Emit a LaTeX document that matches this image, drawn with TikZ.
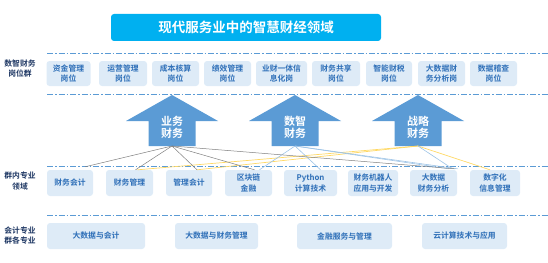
\documentclass[tikz,border=0pt]{standalone}
\usepackage{fontspec}
\setmainfont{Noto Sans CJK SC}[BoldFont={Noto Sans CJK SC Bold}]
\usetikzlibrary{calc}
\definecolor{titlec}{HTML}{00B0F0}
\definecolor{arrowc}{HTML}{5B9BD5}
\definecolor{boxfill}{HTML}{DEEBF7}
\definecolor{boxtext}{HTML}{2E6FB8}
\definecolor{labc}{HTML}{1F3864}
\definecolor{grayl}{HTML}{7F7F7F}
\definecolor{bluel}{HTML}{9DC3E6}
\definecolor{yell}{HTML}{FFD966}
\begin{document}
\begin{tikzpicture}[x=1pt,y=-1pt,
  bx/.style={rounded corners=3pt, fill=boxfill, text=boxtext, align=center, inner sep=0pt,
    font=\bfseries\fontsize{7.8}{10.5}\selectfont, minimum height=25pt},
  lab/.style={text=labc, align=center, font=\bfseries\fontsize{7.8}{10.5}\selectfont},
  sep/.style={draw=arrowc, line width=0.9pt, dash pattern=on 6pt off 2pt on 1.5pt off 2pt},
  upar/.style={fill=arrowc},
  artext/.style={text=white, align=center, font=\bfseries\fontsize{11}{12.5}\selectfont},
  lg/.style={draw=grayl, line width=0.5pt},
  lb/.style={draw=bluel, line width=0.6pt},
  ly/.style={draw=yell, line width=0.7pt}]
\useasboundingbox (0,0) rectangle (548,262);
% title
\node[rounded corners=3pt, fill=titlec, text=white, minimum width=270pt, minimum height=27pt,
  font=\bfseries\fontsize{13.5}{15}\selectfont] (title) at (246,27.5) {现代服务业中的智慧财经领域};
% separators
\coordinate (s1a) at (47,53); \coordinate (s1b) at (548,53);
\coordinate (s2a) at (47,94); \coordinate (s2b) at (548,94);
\coordinate (s3a) at (47,166); \coordinate (s3b) at (548,166);
\coordinate (s4a) at (47,215); \coordinate (s4b) at (548,215);
\draw[sep] (s1a) -- (s1b);
\draw[sep] (s2a) -- (s2b);
\draw[sep] (s3a) -- (s3b);
\draw[sep] (s4a) -- (s4b);
% left labels
\node[lab] (lab1) at (20,68.5) {数智财务\\岗位群};
\node[lab] (lab2) at (20,181) {群内专业\\领域};
\node[lab] (lab3) at (20,235.5) {会计专业\\群各专业};
% job boxes
\node[bx, minimum width=44pt] (j1) at (68.5,73.5) {资金管理\\岗位};
\node[bx, minimum width=48pt] (j2) at (123,73.5) {运营管理\\岗位};
\node[bx, minimum width=47pt] (j3) at (175.5,73.5) {成本核算\\岗位};
\node[bx, minimum width=47pt] (j4) at (227.5,73.5) {绩效管理\\岗位};
\node[bx, minimum width=51pt] (j5) at (281.5,73.5) {业财一体信\\息化岗};
\node[bx, minimum width=48pt] (j6) at (336,73.5) {财务共享\\岗位};
\node[bx, minimum width=46pt] (j7) at (389,73.5) {智能财税\\岗位};
\node[bx, minimum width=47pt] (j8) at (441.5,73.5) {大数据财\\务分析岗};
\node[bx, minimum width=47pt] (j9) at (493.5,73.5) {数据稽查\\岗位};
% arrows
\fill[upar] (172,95) -- (218,121) -- (195.5,121) -- (195.5,146) -- (148.5,146) -- (148.5,121) -- (126,121) -- cycle;
\fill[upar] (295,95) -- (341,121) -- (318.5,121) -- (318.5,146) -- (271.5,146) -- (271.5,121) -- (249,121) -- cycle;
\fill[upar] (418,95) -- (464,121) -- (441.5,121) -- (441.5,146) -- (394.5,146) -- (394.5,121) -- (372,121) -- cycle;
\node[artext] (t1) at (172,127.5) {业务\\财务};
\node[artext] (t2) at (295,127.5) {数智\\财务};
\node[artext] (t3) at (418,127.5) {战略\\财务};
\coordinate (a1) at (172,146);
\coordinate (a2) at (295,146);
\coordinate (a3) at (418,146);
% lower boxes
\node[bx, minimum width=46pt, minimum height=26pt] (l1) at (70,183) {财务会计};
\node[bx, minimum width=47pt, minimum height=26pt] (l2) at (129.5,183) {财务管理};
\node[bx, minimum width=46pt, minimum height=26pt] (l3) at (189,183) {管理会计};
\node[bx, minimum width=47pt, minimum height=26pt] (l4) at (248.5,183) {区块链\\金融};
\node[bx, minimum width=53pt, minimum height=26pt] (l5) at (310.5,183) {Python\\计算技术};
\node[bx, minimum width=50pt, minimum height=26pt] (l6) at (373,183) {财务机器人\\应用与开发};
\node[bx, minimum width=47pt, minimum height=26pt] (l7) at (433.5,183) {大数据\\财务分析};
\node[bx, minimum width=50pt, minimum height=26pt] (l8) at (495,183) {数字化\\信息管理};
% bottom boxes
\node[bx, minimum width=98pt, minimum height=26pt] (b1) at (96,236) {大数据与会计};
\node[bx, minimum width=83pt, minimum height=26pt] (b2) at (216.5,236) {大数据与财务管理};
\node[bx, minimum width=95pt, minimum height=26pt] (b3) at (344.5,236) {金融服务与管理};
\node[bx, minimum width=85pt, minimum height=26pt] (b4) at (464.5,236) {云计算技术与应用};
% connectors
\draw[ly] (a3) -- ($(l2.north)+(8,0)$);
\draw[ly] (a3) -- ($(l3.north)+(8,0)$);
\draw[ly] (a3) -- ($(l8.north)+(-5,0)$);
\draw[lb] (a2) -- ($(l4.north)+(11,0)$);
\draw[lb] (a2) -- ($(l5.north)+(10,0)$);
\draw[lb] (a2) -- ($(l7.north)+(15,-1)$);
\draw[lb] (a2) -- ($(l7.north)+(24,-1)$);
\draw[lb] (a3) -- ($(l7.north)+(19,-1)$);
\draw[lg] (a1) -- ($(l1.north)+(15,-3)$);
\draw[lg] (a1) -- ($(l2.north)+(6,0)$);
\draw[lg] (a1) -- ($(l3.north)+(8,0)$);
\draw[lg] (a1) -- ($(l4.north)+(6,0)$);
\draw[lg] (a1) -- ($(l7.north)+(21,-1)$);
\end{tikzpicture}
\end{document}
